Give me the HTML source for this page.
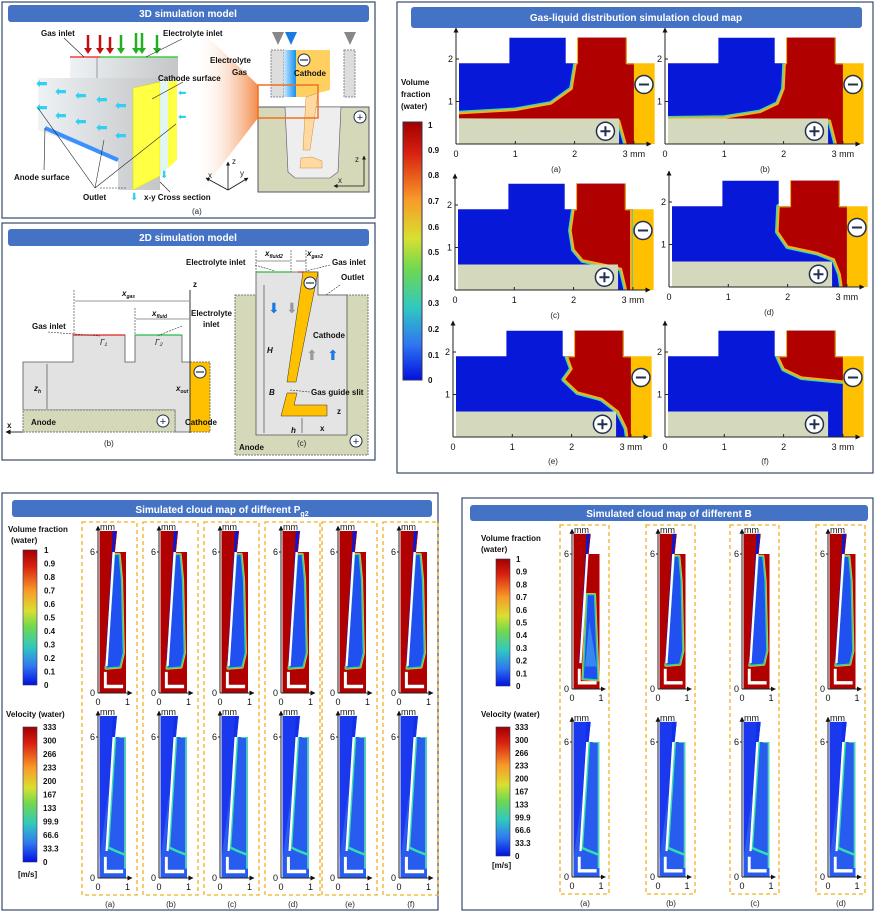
<!DOCTYPE html>
<html><head><meta charset="utf-8"><style>
html,body{margin:0;padding:0;background:#fff}
svg{display:block;font-family:"Liberation Sans",Arial,sans-serif}
.t{font-weight:bold;fill:#fff;font-size:10px}
.l{font-weight:bold;font-size:8px;fill:#111}
.k{font-size:9px;fill:#111}
.c{font-size:8px;fill:#222}
</style></head><body>
<svg id="s" width="876" height="914" viewBox="0 0 876 914" xmlns="http://www.w3.org/2000/svg">
<defs>
<linearGradient id="jet" x1="0" y1="0" x2="0" y2="1">
<stop offset="0" stop-color="#a00000"/><stop offset="0.12" stop-color="#d82010"/><stop offset="0.3" stop-color="#f89a28"/><stop offset="0.45" stop-color="#d8e030"/><stop offset="0.57" stop-color="#70d850"/><stop offset="0.72" stop-color="#30c8c0"/><stop offset="0.86" stop-color="#3078f0"/><stop offset="1" stop-color="#0010e0"/></linearGradient>
<linearGradient id="cone" x1="0" y1="0" x2="1" y2="0"><stop offset="0" stop-color="#fff" stop-opacity="0"/><stop offset="1" stop-color="#f07020"/></linearGradient>
<linearGradient id="blk" x1="0" y1="0" x2="1" y2="0"><stop offset="0" stop-color="#eef2f4"/><stop offset="1" stop-color="#c4c6c8"/></linearGradient>
<linearGradient id="bl" x1="0" y1="0" x2="1" y2="0"><stop offset="0" stop-color="#c8e8ff"/><stop offset="1" stop-color="#1090f0"/></linearGradient>
<marker id="ar" viewBox="0 0 10 10" refX="9" refY="5" markerWidth="5" markerHeight="5" orient="auto"><path d="M0 0L10 5L0 10z" fill="#111"/></marker>
</defs>
<rect x="2" y="2" width="373" height="216" fill="none" stroke="#3a4a6a" stroke-width="1.2"/>
<rect x="2" y="223" width="373" height="237" fill="none" stroke="#3a4a6a" stroke-width="1.2"/>
<rect x="397" y="2" width="476" height="471" fill="none" stroke="#3a4a6a" stroke-width="1.2"/>
<rect x="2" y="493" width="436" height="417" fill="none" stroke="#3a4a6a" stroke-width="1.2"/>
<rect x="462" y="498" width="411" height="412" fill="none" stroke="#3a4a6a" stroke-width="1.2"/>
<rect x="8" y="5" width="361" height="17" rx="3" fill="#4472c4"/><text class="t" x="188" y="17" text-anchor="middle">3D simulation model</text>
<rect x="8" y="229" width="361" height="17" rx="3" fill="#4472c4"/><text class="t" x="188" y="241" text-anchor="middle">2D simulation model</text>
<rect x="411" y="7" width="451" height="21" rx="3" fill="#4472c4"/><text class="t" x="636" y="21" text-anchor="middle">Gas-liquid distribution simulation cloud map</text>
<rect x="12" y="500" width="420" height="17" rx="3" fill="#4472c4"/><text class="t" x="222" y="513" text-anchor="middle">Simulated cloud map of different P<tspan font-size="7" dy="3">g2</tspan></text>
<rect x="470" y="505" width="398" height="16" rx="3" fill="#4472c4"/><text class="t" x="669" y="517" text-anchor="middle">Simulated cloud map of different B</text>

<!-- 3D model -->
<polygon points="195,25 258,85 258,118 195,200" fill="url(#cone)" opacity="0.8"/>
<rect x="70" y="57" width="108" height="24" fill="url(#blk)"/>
<line x1="97" y1="57" x2="97" y2="81" stroke="#999"/>
<line x1="70" y1="57" x2="100" y2="57" stroke="#f04040" stroke-width="1.5"/>
<line x1="100" y1="57" x2="178" y2="57" stroke="#40d040" stroke-width="1.5"/>
<polygon points="38,78 160,78 160,190 118,190 118,160 38,130" fill="url(#blk)"/>
<line x1="45" y1="128" x2="118" y2="160" stroke="#3a90ff" stroke-width="4"/>
<polygon points="133,88 160,82 160,176 133,190" fill="#ffff44" stroke="#d8d800" stroke-width="0.5"/>
<polygon points="160,82 170,80 170,165 160,176" fill="#d8f4f0" opacity="0.8"/>
<polygon points="168,82 177,80 177,160 168,168" fill="#ffff44"/>
<g fill="#30d0f0" font-size="14">
<text x="36" y="88">⬅</text><text x="55" y="96">⬅</text><text x="75" y="100">⬅</text><text x="96" y="104">⬅</text><text x="115" y="110">⬅</text>
<text x="36" y="112">⬅</text><text x="55" y="120">⬅</text><text x="75" y="126">⬅</text><text x="96" y="132">⬅</text><text x="115" y="140">⬅</text>
<text x="178" y="96" font-size="10">⬅</text><text x="178" y="120" font-size="10">⬅</text>
<text x="130" y="200" font-size="10">⬇</text><text x="160" y="178" font-size="10">⬇</text></g>
<g stroke-width="2.5"><line x1="88" y1="35" x2="88" y2="50" stroke="#c01010"/><line x1="100" y1="35" x2="100" y2="50" stroke="#c01010"/><line x1="110" y1="37" x2="110" y2="50" stroke="#c01010"/>
<line x1="121" y1="35" x2="121" y2="50" stroke="#20b020"/><line x1="136" y1="33" x2="136" y2="50" stroke="#20b020"/><line x1="142" y1="33" x2="142" y2="50" stroke="#20b020"/><line x1="157" y1="35" x2="157" y2="50" stroke="#20b020"/></g>
<g fill="#20b020"><polygon points="117,48 125,48 121,54"/><polygon points="132,48 140,48 136,54"/><polygon points="138,48 146,48 142,54"/><polygon points="153,48 161,48 157,54"/></g>
<g fill="#c01010"><polygon points="84,48 92,48 88,54"/><polygon points="96,48 104,48 100,54"/><polygon points="106,48 114,48 110,54"/></g>
<text class="l" x="41" y="36">Gas inlet</text><text class="l" x="163" y="36">Electrolyte inlet</text>
<text class="l" x="158" y="81">Cathode surface</text><text class="l" x="14" y="180">Anode surface</text>
<text class="l" x="83" y="200">Outlet</text><text class="l" x="144" y="200">x-y Cross section</text>
<text class="c" x="192" y="214">(a)</text>
<g stroke="#222" stroke-width="0.6" fill="none"><line x1="64" y1="38" x2="84" y2="57"/><line x1="182" y1="39" x2="146" y2="57"/><line x1="183" y1="82" x2="152" y2="99"/><line x1="44" y1="170" x2="45" y2="128"/><line x1="95" y1="188" x2="38" y2="108"/><line x1="95" y1="188" x2="104" y2="140"/><line x1="95" y1="188" x2="176" y2="124"/><line x1="100" y1="188" x2="127" y2="188" stroke-dasharray="2,1"/><line x1="170" y1="192" x2="160" y2="182"/></g>
<g stroke="#111" stroke-width="0.8"><line x1="228" y1="190" x2="228" y2="162" marker-end="url(#ar)"/><line x1="228" y1="190" x2="206" y2="178" marker-end="url(#ar)"/><line x1="228" y1="190" x2="248" y2="178" marker-end="url(#ar)"/></g>
<text class="c" x="232" y="164">z</text><text class="c" x="208" y="178">x</text><text class="c" x="240" y="176">y</text>
<rect x="271" y="50" width="13" height="47" fill="#ddd" stroke="#889" stroke-dasharray="2,1"/>
<rect x="284" y="50" width="12" height="47" fill="url(#bl)"/>
<polygon points="296,50 330,50 330,90 318,93 306,97 296,97" fill="#ffd060"/>
<rect x="344" y="50" width="11" height="47" fill="#ddd" stroke="#889" stroke-dasharray="2,1"/>
<polygon points="272,32 284,32 278,45" fill="#888"/><polygon points="285,32 297,32 291,45" fill="#1a7ae0"/><polygon points="344,32 356,32 350,45" fill="#888"/>
<circle cx="304" cy="60" r="6" fill="#fff" stroke="#203050"/><line x1="300" y1="60" x2="308" y2="60" stroke="#203050" stroke-width="1.2"/>
<text class="l" x="210" y="63">Electrolyte</text><text class="l" x="232" y="75">Gas</text><text class="l" x="294" y="76">Cathode</text>
<rect x="258" y="107" width="111" height="85" fill="#d6d9b9" stroke="#556"/>
<polygon points="285,107 341,107 338,172 330,178 295,178 288,172" fill="#eeeeee" stroke="#556" stroke-width="0.6"/>
<polygon points="306,97 318,93 310,150 303,150" fill="#ffd9a0" stroke="#c89040" stroke-width="0.5"/>
<polygon points="301,158 312,157 322,161 322,168 300,168" fill="#ffd9a0" stroke="#c89040" stroke-width="0.5"/>
<rect x="258" y="85" width="60" height="33" fill="none" stroke="#f07020" stroke-width="1.5"/>
<circle cx="360" cy="117" r="6" fill="#fff" stroke="#203050"/><text x="360" y="121" font-size="11" text-anchor="middle" fill="#203050">+</text>
<g stroke="#111" stroke-width="0.8"><line x1="364" y1="186" x2="364" y2="156" marker-end="url(#ar)"/><line x1="364" y1="186" x2="334" y2="186" marker-end="url(#ar)"/></g>
<text class="c" x="355" y="162">z</text><text class="c" x="338" y="183">x</text>

<!-- 2D model (b) -->
<polygon points="23,362 73,362 73,335 125,335 125,362 135,362 135,335 182,335 182,362 190,362 190,432 175,432 175,410 23,410" fill="#e2e2e2" stroke="#555" stroke-width="0.8"/>
<rect x="23" y="410" width="152" height="22" fill="#d6d9b9" stroke="#777" stroke-dasharray="2,1"/>
<rect x="190" y="362" width="20" height="70" fill="#ffc000" stroke="#777" stroke-dasharray="2,1"/>
<line x1="73" y1="335" x2="125" y2="335" stroke="#e02020" stroke-width="1.2"/><line x1="135" y1="335" x2="182" y2="335" stroke="#20c040" stroke-width="1.2"/>
<line x1="190" y1="433" x2="190" y2="290" stroke="#333" stroke-width="1"/><line x1="23" y1="432" x2="6" y2="432" stroke="#333" marker-end="url(#ar)"/>
<circle cx="200" cy="372" r="6" fill="#fff" stroke="#203050"/><line x1="196" y1="372" x2="204" y2="372" stroke="#203050" stroke-width="1.2"/>
<circle cx="163" cy="421" r="6" fill="#fff" stroke="#203050"/><text x="163" y="425" font-size="11" text-anchor="middle" fill="#203050">+</text>
<g stroke="#333" stroke-width="0.6" fill="none" stroke-dasharray="2,1"><line x1="74" y1="290" x2="74" y2="335"/><line x1="135" y1="308" x2="135" y2="335"/><line x1="48" y1="332" x2="100" y2="336"/><line x1="182" y1="326" x2="157" y2="336"/></g>
<g stroke="#333" stroke-width="0.6"><line x1="75" y1="301" x2="189" y2="301"/><line x1="136" y1="319" x2="189" y2="319"/><line x1="47" y1="364" x2="47" y2="409"/></g>
<text class="l" x="122" y="296" font-style="italic">x<tspan font-size="5" dy="2">gas</tspan></text>
<text class="l" x="152" y="316" font-style="italic">x<tspan font-size="5" dy="2">fluid</tspan></text>
<text class="l" x="191" y="316">Electrolyte</text><text class="l" x="203" y="327">inlet</text><text class="l" x="32" y="329">Gas inlet</text>
<text class="l" x="34" y="391" font-style="italic">z<tspan font-size="5" dy="2">h</tspan></text>
<text class="l" x="176" y="391" font-style="italic">x<tspan font-size="5" dy="2">out</tspan></text>
<text class="l" x="31" y="425">Anode</text><text class="l" x="185" y="425">Cathode</text>
<text class="l" x="7" y="428">x</text><text class="l" x="193" y="287">z</text>
<text class="c" x="100" y="345" font-style="italic">Γ₁</text><text class="c" x="155" y="345" font-style="italic">Γ₂</text>
<text class="c" x="104" y="446">(b)</text>
<!-- (c) -->
<rect x="235" y="295" width="133" height="160" fill="#d6d9b9" stroke="#777" stroke-dasharray="2,1"/>
<polygon points="256,272 318,272 318,295 347,295 347,435 256,435" fill="#e4e4e4" stroke="#555" stroke-width="0.8"/>
<line x1="256" y1="272" x2="291" y2="272" stroke="#20c040" stroke-width="1.2"/><line x1="298" y1="272" x2="304" y2="272" stroke="#e02020" stroke-width="1.2"/>
<polygon points="303,272 318,272 296,382 287,382" fill="#ffc000" stroke="#333" stroke-width="0.5"/>
<polygon points="287,393 297,393 294,405 327,405 327,416 281,416" fill="#ffc000" stroke="#333" stroke-width="0.5"/>
<circle cx="310" cy="283" r="6" fill="#fff" stroke="#203050"/><line x1="306" y1="283" x2="314" y2="283" stroke="#203050" stroke-width="1.2"/>
<circle cx="356" cy="441" r="6" fill="#fff" stroke="#203050"/><text x="356" y="445" font-size="11" text-anchor="middle" fill="#203050">+</text>
<text fill="#1a7ae0" x="268" y="313" font-size="14">⬇</text><text fill="#999" x="286" y="313" font-size="14">⬇</text>
<text fill="#999" x="306" y="360" font-size="14">⬆</text><text fill="#1a7ae0" x="327" y="360" font-size="14">⬆</text>
<g stroke="#333" stroke-width="0.6"><line x1="264" y1="285" x2="264" y2="433"/><line x1="256" y1="261" x2="290" y2="261"/><line x1="296" y1="261" x2="306" y2="261"/><line x1="302" y1="418" x2="302" y2="433"/></g>
<g stroke="#333" stroke-width="0.6" stroke-dasharray="2,1" fill="none"><line x1="256" y1="250" x2="256" y2="272"/><line x1="291" y1="250" x2="291" y2="272"/><line x1="306" y1="250" x2="306" y2="272"/><line x1="255" y1="265" x2="275" y2="271"/><line x1="330" y1="265" x2="306" y2="271"/><line x1="340" y1="285" x2="326" y2="295"/><line x1="290" y1="390" x2="310" y2="392"/></g>
<text class="l" x="265" y="256" font-style="italic">x<tspan font-size="5" dy="2">fluid2</tspan></text><text class="l" x="307" y="256" font-style="italic">x<tspan font-size="5" dy="2">gas2</tspan></text>
<text class="l" x="186" y="265">Electrolyte inlet</text><text class="l" x="332" y="265">Gas inlet</text>
<text class="l" x="341" y="280">Outlet</text><text class="l" x="313" y="338">Cathode</text>
<text class="l" x="267" y="353" font-style="italic">H</text><text class="l" x="269" y="395" font-style="italic">B</text>
<text class="l" x="311" y="395">Gas guide slit</text><text class="l" x="291" y="433" font-style="italic">h</text>
<text class="l" x="239" y="450">Anode</text><text class="l" x="337" y="414">z</text><text class="l" x="320" y="431">x</text>
<text class="c" x="297" y="446">(c)</text>

<text class="l" x="401" y="85" font-size="9">Volume</text><text class="l" x="401" y="97" font-size="9">fraction</text><text class="l" x="401" y="109" font-size="9">(water)</text>
<rect x="403" y="122" width="19" height="258" fill="url(#jet)" stroke="#335"/>
<g class="l" font-size="9">
<text x="428" y="128">1</text><text x="428" y="153">0.9</text><text x="428" y="178">0.8</text><text x="428" y="204">0.7</text><text x="428" y="230">0.6</text><text x="428" y="255">0.5</text><text x="428" y="281">0.4</text><text x="428" y="306">0.3</text><text x="428" y="332">0.2</text><text x="428" y="358">0.1</text><text x="428" y="383">0</text></g>
<g id="dyn"></g>
</svg>
<script>
var S=[];function a(s){S.push(s)}
var pid=0;
function pts(arr,X,Y){return arr.map(function(p){return X(p[0]).toFixed(1)+','+Y(p[1]).toFixed(1)}).join(' ')}
function gl(ox,oy,red,lab,ly){
 var X=function(x){return ox+x*59.3},Y=function(y){return oy-y*42.5};pid++;
 var fl=[[0.05,0],[0.05,1.9],[0.9,1.9],[0.9,2.5],[1.85,2.5],[1.85,1.9],[2.04,1.9],[2.04,2.5],[2.88,2.5],[2.88,1.9],[3.0,1.9],[3.0,0]];
 a('<clipPath id="c'+pid+'"><polygon points="'+pts(fl,X,Y)+'"/></clipPath>');
 a('<polygon points="'+pts(fl,X,Y)+'" fill="#0818d8"/>');
 a('<g clip-path="url(#c'+pid+')"><polygon points="'+pts(red,X,Y)+'" fill="#b00000" stroke="#40d8b0" stroke-width="5" stroke-linejoin="round"/><polygon points="'+pts(red,X,Y)+'" fill="#b00000" stroke="#f0b020" stroke-width="2.2" stroke-linejoin="round"/></g>');
 a('<rect x="'+X(0.05)+'" y="'+Y(0.6)+'" width="'+(2.7*59.3)+'" height="'+(0.6*42.5)+'" fill="#d4d8bc"/>');
 a('<rect x="'+X(3.0)+'" y="'+Y(1.9)+'" width="'+(0.35*59.3)+'" height="'+(1.9*42.5)+'" fill="#ffc000"/>');
 var mx=X(3.17),my=Y(1.4);a('<circle cx="'+mx+'" cy="'+my+'" r="9" fill="#fff" stroke="#203050" stroke-width="1.5"/><line x1="'+(mx-5)+'" y1="'+my+'" x2="'+(mx+5)+'" y2="'+my+'" stroke="#203050" stroke-width="2"/>');
 var px=X(2.52),py=Y(0.3);a('<circle cx="'+px+'" cy="'+py+'" r="9" fill="#fff" stroke="#203050" stroke-width="1.5"/><line x1="'+(px-5)+'" y1="'+py+'" x2="'+(px+5)+'" y2="'+py+'" stroke="#203050" stroke-width="2"/><line x1="'+px+'" y1="'+(py-5)+'" x2="'+px+'" y2="'+(py+5)+'" stroke="#203050" stroke-width="2"/>');
 a('<line x1="'+ox+'" y1="'+oy+'" x2="'+(ox+195)+'" y2="'+oy+'" stroke="#222" marker-end="url(#ar)"/><line x1="'+ox+'" y1="'+oy+'" x2="'+ox+'" y2="'+(oy-116)+'" stroke="#222" marker-end="url(#ar)"/>');
 for(var i=0;i<4;i++){a('<line x1="'+X(i)+'" y1="'+oy+'" x2="'+X(i)+'" y2="'+(oy-3)+'" stroke="#222"/><text class="k" x="'+X(i)+'" y="'+(oy+13)+'" text-anchor="middle">'+(i==3?'3 mm':i)+'</text>');}
 for(var j=1;j<3;j++){a('<line x1="'+ox+'" y1="'+Y(j)+'" x2="'+(ox+3)+'" y2="'+Y(j)+'" stroke="#222"/><text class="k" x="'+(ox-3)+'" y="'+(Y(j)+3)+'" text-anchor="end">'+j+'</text>');}
 a('<text class="c" x="'+(ox+100)+'" y="'+ly+'" text-anchor="middle" font-size="9">'+lab+'</text>');
}
var upR=[[2.04,1.9],[2.04,2.6],[2.88,2.6],[2.88,1.9],[3.05,1.9],[3.05,-0.1]];
gl(456,144,[[0,0.58],[0,0.72],[1.0,0.8],[1.6,0.95],[1.95,1.3],[2.02,1.9]].concat(upR).concat([[2.88,-0.1],[2.75,0.55]]),'(a)',172);
gl(665,144,[[0,0.58],[0,0.6],[1.0,0.62],[1.6,0.75],[1.9,0.95],[2.0,1.3],[2.02,1.9]].concat(upR).concat([[2.9,-0.1],[2.78,0.55]]),'(b)',172);
gl(455,290,[[2.0,1.9],[1.95,1.4],[2.0,0.95],[2.15,0.7],[2.6,0.57],[2.8,0.5],[2.9,-0.1],[2.97,-0.1],[2.97,1.9],[2.88,1.9],[2.88,2.6],[2.04,2.6],[2.04,1.9]],'(c)',318);
gl(669,287,[[1.85,1.9],[1.83,1.3],[2.0,0.95],[2.5,0.8],[2.78,0.65],[2.88,0.3],[2.92,-0.1],[3.05,-0.1],[3.05,1.9],[2.88,1.9],[2.88,2.6],[2.04,2.6],[2.04,1.9]],'(d)',315);
gl(453,437,[[1.92,1.9],[2.0,1.6],[1.87,1.35],[2.1,1.05],[2.5,0.9],[2.78,0.6],[2.92,0.2],[2.95,-0.1],[3.05,-0.1],[3.05,1.9],[2.88,1.9],[2.88,2.6],[2.04,2.6],[2.04,1.9]],'(e)',464);
gl(665,437,[[1.9,1.9],[2.0,1.6],[2.3,1.4],[3.05,1.3],[3.05,1.9],[2.88,1.9],[2.88,2.6],[2.04,2.6],[2.04,1.9]],'(f)',464);

function vm(ox,oy,sx,sy,type,v){
 var X=function(x){return ox+x*sx},Y=function(y){return oy-y*sy};pid++;
 var sh=[[0.05,0],[0.05,6.9],[0.65,6.9],[0.58,6.0],[0.7,6.0],[0.95,6.0],[0.95,0]];
 var cath=[[0.5,6.9],[0.62,6.9],[0.55,6.0],[0.32,1.15],[0.24,1.15],[0.47,6.0]];
 a('<clipPath id="c'+pid+'"><polygon points="'+pts(sh,X,Y)+'"/></clipPath>');
 var bg=type=='v'?'#1a38ee':'#b00000';
 a('<g clip-path="url(#c'+pid+')"><polygon points="'+pts(sh,X,Y)+'" fill="'+bg+'"/>');
 if(type=='f'){
  var blue=v=='a'?[[0.38,0.45],[0.52,4.2],[0.78,4.2],[0.9,0.4]]:[[0.56,5.9],[0.72,5.9],[0.8,4.8],[0.86,1.7],[0.75,1.1],[0.27,1.05],[0.3,1.3]];
  a('<polygon points="'+pts(blue,X,Y)+'" fill="#1a48e8" stroke="#f0c020" stroke-width="3" stroke-linejoin="round"/><polygon points="'+pts(blue,X,Y)+'" fill="#2050f0" stroke="#30d0a0" stroke-width="1.5"/>');
  if(v=='a')a('<polygon points="'+pts([[0.45,1.0],[0.6,3.0],[0.85,1.0]],X,Y)+'" fill="#40a0f0" opacity="0.7"/>');
 } else {
  a('<polygon points="'+pts([[0.6,6.0],[0.95,6.0],[0.95,0],[0.05,0],[0.05,0.8]],X,Y)+'" fill="#2f6cf0" opacity="0.7"/>');
  a('<polyline points="'+pts([[0.58,6.0],[0.34,1.3],[0.6,1.15],[0.9,1.0]],X,Y)+'" fill="none" stroke="#30e0b0" stroke-width="2.5"/>');
  a('<polyline points="'+pts([[0.72,6.0],[0.92,6.0],[0.92,0.4]],X,Y)+'" fill="none" stroke="#50d0c0" stroke-width="2"/>');
 }
 a('<polygon points="'+pts(cath,X,Y)+'" fill="'+(type=='v'?'#1030e8':'#0818d8')+'"/>');
 a('<polygon points="'+pts([[0.49,6.0],[0.57,6.0],[0.33,1.15],[0.25,1.15]],X,Y)+'" fill="#fff"/>');
 a('<polygon points="'+pts([[0.2,0.9],[0.3,0.9],[0.3,0.35],[0.85,0.35],[0.85,0.2],[0.2,0.2]],X,Y)+'" fill="#fff"/></g>');
 a('<line x1="'+ox+'" y1="'+oy+'" x2="'+(ox+sx*1.15)+'" y2="'+oy+'" stroke="#222" marker-end="url(#ar)"/><line x1="'+ox+'" y1="'+oy+'" x2="'+ox+'" y2="'+(oy-sy*7.1)+'" stroke="#222" marker-end="url(#ar)"/>');
 a('<text class="k" x="'+(ox+2)+'" y="'+(oy-sy*6.9-1)+'">mm</text>');
 a('<text class="k" x="'+(ox-3)+'" y="'+(Y(6)+3)+'" text-anchor="end">6</text><line x1="'+(ox-2)+'" y1="'+Y(6)+'" x2="'+ox+'" y2="'+Y(6)+'" stroke="#222"/>');
 a('<text class="k" x="'+(ox-3)+'" y="'+(oy+3)+'" text-anchor="end">0</text>');
 a('<text class="k" x="'+ox+'" y="'+(oy+12)+'" text-anchor="middle">0</text><text class="k" x="'+X(1)+'" y="'+(oy+12)+'" text-anchor="middle">1</text>');
}
var L=['a','b','c','d','e','f'];
[82,143,204,265,322,383].forEach(function(bx,i){
 a('<rect x="'+bx+'" y="522" width="55" height="373" fill="none" stroke="#f0b020" stroke-width="1.3" stroke-dasharray="4,3"/>');
 vm(bx+16,693,29.5,23.5,'f',L[i]+'1');vm(bx+16,878,29.5,23.5,'v',L[i]);
 a('<text class="c" x="'+(bx+28)+'" y="907" text-anchor="middle" font-size="9">('+L[i]+')</text>');
});
[560,646,730,816].forEach(function(bx,i){
 a('<rect x="'+bx+'" y="525" width="49" height="369" fill="none" stroke="#f0b020" stroke-width="1.3" stroke-dasharray="4,3"/>');
 vm(bx+12,689,29,22.5,'f',i==0?'a':'x');vm(bx+12,877,29,22.5,'v',L[i]);
 a('<text class="c" x="'+(bx+25)+'" y="906" text-anchor="middle" font-size="9">('+L[i]+')</text>');
});
function cbar(x,y,h,labs,lx){
 a('<rect x="'+x+'" y="'+y+'" width="14" height="'+h+'" fill="url(#jet)" stroke="#335" stroke-width="0.6"/>');
 labs.forEach(function(t,i){var yy=y+h*i/(labs.length-1);a('<text class="l" x="'+lx+'" y="'+(yy+3)+'" font-size="8">'+t+'</text>');});
}
var vf=['1','0.9','0.8','0.7','0.6','0.5','0.4','0.3','0.2','0.1','0'];
var ve=['333','300','266','233','200','167','133','99.9','66.6','33.3','0'];
cbar(23,550,135,vf,44);cbar(23,727,135,ve,43);
cbar(496,559,127,vf,516);cbar(496,727,129,ve,515);
a('<text class="l" x="8" y="532">Volume fraction</text><text class="l" x="11" y="543">(water)</text><text class="l" x="6" y="717">Velocity (water)</text><text class="l" x="18" y="877">[m/s]</text>');
a('<text class="l" x="481" y="541">Volume fraction</text><text class="l" x="481" y="552">(water)</text><text class="l" x="481" y="717">Velocity (water)</text><text class="l" x="492" y="868">[m/s]</text>');
document.getElementById('dyn').innerHTML=S.join('');
</script>
</body></html>
